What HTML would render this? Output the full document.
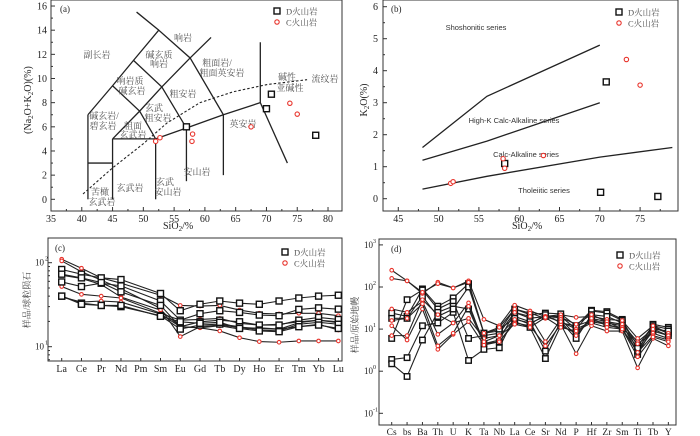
<!DOCTYPE html>
<html><head><meta charset="utf-8"><style>
html,body{margin:0;padding:0;background:#fff;}
svg{display:block;font-family:"Liberation Serif","Noto Serif CJK SC",serif;}
</style></head><body>
<svg id="fig" width="700" height="436" viewBox="0 0 700 436" xmlns="http://www.w3.org/2000/svg"></svg>
<script>
// ---------- Panel (a) TAS data ----------
const aDx = [57, 70.8, 70, 78];
const aDy = [6.0, 8.7, 7.5, 5.3];
const aCx = [52, 52.7, 58, 57.9, 67.5, 73.8, 75];
const aCy = [4.8, 5.1, 5.4, 4.8, 6.0, 7.95, 7.05];
const aXTicks = [35,40,45,50,55,60,65,70,75,80];
const aYTicks = [0,2,4,6,8,10,12,14,16];
// ---------- Panel (b) K2O data ----------
const bDx = [58.2, 70.8, 70.1, 77.2];
const bDy = [1.1, 3.65, 0.2, 0.07];
const bCx = [51.5, 51.8, 58, 58.2, 63, 73.3, 75];
const bCy = [0.48, 0.53, 1.25, 0.95, 1.35, 4.35, 3.55];
const bXTicks = [45,50,55,60,65,70,75];
const bYTicks = [0,1,2,3,4,5,6];
// ---------- Panel (c) REE ----------
const cCats = ["La","Ce","Pr","Nd","Pm","Sm","Eu","Gd","Tb","Dy","Ho","Er","Tm","Yb","Lu"];
const cD1 = [83,73,66,63,null,43,26.8,32,35,33,32,35,38,40,41];
const cD2 = [59,52,57,53,null,35,20.7,24.7,26.8,25.6,23.8,23.4,27.8,29,28];
const cD3 = [73,66,58,45,null,31,17.3,19.8,20.7,19.8,18.1,18.1,20.7,22.3,21.1];
const cD4 = [40,33,31,30,null,23.4,16.2,18.1,18.6,17.3,15.8,15.4,18.5,19.5,18.5];
const cD5 = [40,32,31,31,null,23,19.8,19,19.5,16.5,15.4,15.1,17.3,18.1,16.5];
const cC1 = [110,86,66,57,null,41,31,30.5,31,27.3,25,24.5,25,25,23.4];
const cC2 = [105,78,62,49,null,28.6,13.2,17.3,18.1,17,16.5,16.1,19.3,20.7,19.8];
const cC3 = [71,65,55,39,null,27.3,17.3,16.8,17.8,16.2,16.8,16.2,17.3,18.5,15.8];
const cC4 = [52,42,40,38,null,25,20.7,21.1,21.7,19,18.1,18.5,19.8,20.7,19.3];
const cC5 = [39,34,35,34,null,24.5,17.3,16.8,15.4,12.8,11.5,11.3,11.7,11.7,11.7];
const cYTicks = [1,2];
// ---------- Panel (d) spider ----------
const dCats = ["Cs","bs","Ba","Th","U","K","Ta","Nb","La","Ce","Sr","Nd","P","Hf","Zr","Sm","Ti","Tb","Y"];
const dD1 = [24,20,90,35,55,120,8,9,30,22,24,23,12,28,26,17,3,13,11];
const dD2 = [6,50,85,30,45,6,7,8,25,18,20,20,10,27,24,16,4,12,10];
const dD3 = [1.9,2.1,12,14,25,1.8,3.3,3.6,20,15,3,15,6,22,20,14,2.5,11,8];
const dD4 = [1.5,0.75,5.5,25,35,30,4.5,5,15,11,2,12,8,18,15,10,3,9,7];
const dD5 = [18,18,60,20,30,100,8,10,18,13,22,14,12,16,14,12,3.5,10,9];
const dC1 = [250,140,70,130,95,140,17,12,37,27,20,22,19,20,17,16,6,12,8];
const dC2 = [160,140,75,120,95,130,8,11,30,24,18,19,13,22,15,13,5,10,7];
const dC3 = [30,25,45,7.5,14,42,4.5,5.5,25,20,5,17,7,18,12,11,4.5,8,6];
const dC4 = [12,5.5,30,3.3,7.5,15,4.2,5,14,12,4,13,2.6,12,9,9,1.2,6,4];
const dC5 = [7,7,50,22,14,18,6,7,17,14,20,15,10,15,13,10,2.8,7,5.5];
const dC6 = [16,18,40,4,8,35,5,7,13,11,19,11,9,14,11,10,2.2,6.5,5];
const dYTicks = [-1,0,1,2,3];

const NS="http://www.w3.org/2000/svg";
const svg=document.getElementById('fig');
function el(tag,attrs,parent){const e=document.createElementNS(NS,tag);for(const k in attrs)e.setAttribute(k,attrs[k]);(parent||svg).appendChild(e);return e;}
function txt(s,x,y,attrs,parent){const t=el('text',Object.assign({x:x,y:y,'font-size':10,fill:'#222'},attrs||{}),parent);t.textContent=s;return t;}
function sq(x,y,s,parent){const r=el('rect',{x:x-s/2,y:y-s/2,width:s,height:s,fill:'#fff',stroke:'#111','stroke-width':1.4},parent);

return r;}
function ci(x,y,r,parent){const c=el('circle',{cx:x,cy:y,r:r,fill:'#fff',stroke:'#e8332b','stroke-width':1.1},parent);

return c;}
function legend(x,y,g){sq(x,y,6,g);txt('D火山岩',x+9,y+3.5,{'font-size':8.5,fill:'#555'},g);ci(x,y+11,2.2,g);txt('C火山岩',x+9,y+14.5,{'font-size':8.5,fill:'#555'},g);}

// ================= Panel (a) =================
(function(){
const g=el('g',{});
const L=51,R=342,T=0,B=211;
const X=v=>51+(v-35)*6.156, Y=v=>199.3-v*12.08;
el('rect',{x:L,y:T,width:R-L,height:B-T,fill:'none',stroke:'#333','stroke-width':1},g);
aXTicks.forEach(v=>{el('line',{x1:X(v),y1:B,x2:X(v),y2:B-4,stroke:'#333'},g);txt(String(v),X(v),B+11,{'text-anchor':'middle'},g);
 if(v<80) el('line',{x1:X(v+2.5),y1:B,x2:X(v+2.5),y2:B-2,stroke:'#333'},g);});
aYTicks.forEach(v=>{el('line',{x1:L,y1:Y(v),x2:L+4,y2:Y(v),stroke:'#333'},g);txt(String(v),L-4,Y(v)+3.5,{'text-anchor':'end'},g);
 if(v<16) el('line',{x1:L,y1:Y(v+1),x2:L+2,y2:Y(v+1),stroke:'#333'},g);});
const t=txt('SiO',163,229,{'font-size':10},g);const s=el('tspan',{'font-size':7,dy:2},t);s.textContent='2';const s2=el('tspan',{dy:-2},t);s2.textContent='/%';
const yl=txt('(Na',0,0,{transform:'translate(31,100) rotate(-90)','text-anchor':'middle','font-size':10},g);
[['2',2],['O+K',-2],['2',2],['O)(%)',-2]].forEach(([c,d])=>{const sp=el('tspan',{dy:d,'font-size':c==='2'?7:10},yl);sp.textContent=c;});

const lines=[[[41,0],[41,7]],[[41,3],[45,3]],[[45,0],[45,5]],[[45,5],[52,5]],[[52,0],[52,5]],
[[52,5],[57,5.9],[63,7],[69,8]],[[57,1.5],[57,5.9]],[[63,2],[63,7]],[[69,8],[69,13]],[[69,8],[73.4,3]],
[[41,7],[45,9.4],[48.4,11.5],[52.5,14],[57.6,11.7],[63,7]],[[52.5,14],[48.9,15.5]],[[57.6,11.7],[61,13.4]],
[[45,5],[49.4,7.3],[53,9.3],[57.6,11.7]],[[45,9.4],[49.4,7.3],[52,5]],[[48.4,11.5],[53,9.3],[57,5.9]]];
lines.forEach(p=>el('polyline',{points:p.map(q=>X(q[0])+','+Y(q[1])).join(' '),fill:'none',stroke:'#222','stroke-width':1.3},g));
const dash=[[40.2,0.44],[45,2.6],[50,4.6],[53.8,6.3],[59.2,8.0],[64.6,8.9],[70.1,9.5],[76.6,9.9]];
el('polyline',{points:dash.map(q=>X(q[0])+','+Y(q[1])).join(' '),fill:'none',stroke:'#222','stroke-width':1.1,'stroke-dasharray':'2.5,2'},g);
const labs=[['副长岩',97,58],['响岩',183,41],['碱玄质',159,58],['响岩',159,67],['粗面岩/',217,66],['粗面英安岩',222,76],
['响岩质',130,84],['碱玄岩',132,94],['粗安岩',183,97],['碱性',287,80],['亚碱性',290,91],['流纹岩',325,82],
['碱玄岩/',104,119],['碧玄岩',103,129],['玄武',154,111],['粗安岩',158,121],['粗面',133,129],['玄武岩',133,138],
['英安岩',243,127],['安山岩',197,175],['玄武岩',130,191],['玄武',165,185],['安山岩',168,195],['苦橄',100,195],['玄武岩',102,205]];
labs.forEach(l=>txt(l[0],l[1],l[2],{'text-anchor':'middle','font-size':9,fill:'#555'},g));
aDx.forEach((v,i)=>sq(X(v),Y(aDy[i]),6,g));
aCx.forEach((v,i)=>ci(X(v),Y(aCy[i]),2.2,g));
txt('(a)',60,12,{'font-size':9},g);
legend(277,11,g);
})();

// ================= Panel (b) =================
(function(){
const g=el('g',{});
const L=383,R=678,T=0,B=211;
const X=v=>398.3+(v-45)*8.06, Y=v=>198.7-v*32;
el('rect',{x:L,y:T,width:R-L,height:B-T,fill:'none',stroke:'#333'},g);
bXTicks.forEach(v=>{el('line',{x1:X(v),y1:B,x2:X(v),y2:B-4,stroke:'#333'},g);txt(String(v),X(v),B+11,{'text-anchor':'middle'},g);
 el('line',{x1:X(v+2.5),y1:B,x2:X(v+2.5),y2:B-2,stroke:'#333'},g);});
bYTicks.forEach(v=>{el('line',{x1:L,y1:Y(v),x2:L+4,y2:Y(v),stroke:'#333'},g);txt(String(v),L-5,Y(v)+3.5,{'text-anchor':'end'},g);
 if(v<6) el('line',{x1:L,y1:Y(v+0.5),x2:L+2,y2:Y(v+0.5),stroke:'#333'},g);});
const t=txt('SiO',512,229,{},g);const s=el('tspan',{'font-size':7,dy:2},t);s.textContent='2';const s2=el('tspan',{dy:-2},t);s2.textContent='/%';

const yl=txt('K',0,0,{transform:'translate(367,100) rotate(-90)','text-anchor':'middle'},g);
const y1=el('tspan',{dy:2,'font-size':7},yl);y1.textContent='2';const y2=el('tspan',{dy:-2},yl);y2.textContent='O(%)';

[[[48,1.6],[56,3.2],[70,4.8]],[[48,1.2],[56,1.8],[70,3.0]],[[48,0.3],[56,0.7],[70,1.3],[79,1.6]]].forEach(p=>
 el('polyline',{points:p.map(q=>X(q[0])+','+Y(q[1])).join(' '),fill:'none',stroke:'#222','stroke-width':1.3},g));
const f={'font-family':'"Liberation Sans",sans-serif','font-size':7.5,'text-anchor':'middle',fill:'#333'};
txt('Shoshonitic series',476,30,f,g);txt('High-K Calc-Alkaline series',514,123,f,g);
txt('Calc-Alkaline series',526,157,f,g);txt('Tholeiitic series',544,193,f,g);
bDx.forEach((v,i)=>sq(X(v),Y(bDy[i]),6,g));
bCx.forEach((v,i)=>ci(X(v),Y(bCy[i]),2.2,g));
txt('(b)',391,12,{'font-size':9},g);
legend(619,12,g);
})();

// ================= Panel (c) =================
(function(){
const g=el('g',{});
const L=48,R=342,T=238,B=361;
const X=i=>61.7+i*19.76, Y=v=>346.7-(Math.log10(v)-1)*84;
el('rect',{x:L,y:T,width:R-L,height:B-T,fill:'none',stroke:'#333'},g);
cCats.forEach((c,i)=>{el('line',{x1:X(i),y1:B,x2:X(i),y2:B-3,stroke:'#333'},g);txt(c,X(i),B+11,{'text-anchor':'middle'},g);});
cYTicks.forEach(e=>{const y=Y(Math.pow(10,e));el('line',{x1:L,y1:y,x2:L+4,y2:y,stroke:'#333'},g);
 const t=txt('10',L-4,y+3,{'text-anchor':'end','font-size':9},g);});
[2,3,4,5,6,7,8,9,20,30,40,50,60,70,80,90,200].forEach(v=>{const y=Y(v);if(y>T&&y<B)el('line',{x1:L,y1:y,x2:L+2,y2:y,stroke:'#333'},g);});
cYTicks.forEach(e=>{const y=Y(Math.pow(10,e));txt(String(e),L-3,y-2,{'font-size':6},g);});
const yl=txt('样品/球粒陨石',0,0,{transform:'translate(30,300) rotate(-90)','text-anchor':'middle','font-size':9,fill:'#444'},g);

function draw(arr,isD){const pts=[];arr.forEach((v,i)=>{if(v!=null)pts.push([X(i),Y(v)]);});
 el('polyline',{points:pts.map(p=>p.join(',')).join(' '),fill:'none',stroke:'#222','stroke-width':1.1},g);
 pts.forEach(p=>isD?sq(p[0],p[1],6,g):ci(p[0],p[1],1.8,g));}
[cC1,cC2,cC3,cC4,cC5].forEach(a=>draw(a,false));
[cD1,cD2,cD3,cD4,cD5].forEach(a=>draw(a,true));
txt('(c)',55,251,{'font-size':9},g);
legend(285,252,g);
})();

// ================= Panel (d) =================
(function(){
const g=el('g',{});
const L=379,R=676,T=239,B=425;
const X=i=>391.7+i*15.37, Y=v=>413.3-(Math.log10(v)+1)*42.1;
el('rect',{x:L,y:T,width:R-L,height:B-T,fill:'none',stroke:'#333'},g);
dCats.forEach((c,i)=>{el('line',{x1:X(i),y1:B,x2:X(i),y2:B-3,stroke:'#333'},g);txt(c,X(i),B+10,{'text-anchor':'middle','font-size':9.5},g);});
dYTicks.forEach(e=>{const y=Y(Math.pow(10,e));el('line',{x1:L,y1:y,x2:L+4,y2:y,stroke:'#333'},g);
 txt('10',L-6,y+3,{'text-anchor':'end','font-size':9},g);txt(String(e),L-6,y-2,{'font-size':6},g);});
const yl=txt('样品/原始地幔',0,0,{transform:'translate(358,325) rotate(-90)','text-anchor':'middle','font-size':9,fill:'#444'},g);

function draw(arr,isD){const pts=arr.map((v,i)=>[X(i),Y(v)]);
 el('polyline',{points:pts.map(p=>p.join(',')).join(' '),fill:'none',stroke:'#222','stroke-width':1.1},g);
 pts.forEach(p=>isD?sq(p[0],p[1],5.5,g):ci(p[0],p[1],1.8,g));}
[dD1,dD2,dD3,dD4,dD5].forEach(a=>draw(a,true));
[dC1,dC2,dC3,dC4,dC5,dC6].forEach(a=>draw(a,false));
txt('(d)',391,252,{'font-size':9},g);
legend(620,255,g);
})();
</script>
</body></html>
